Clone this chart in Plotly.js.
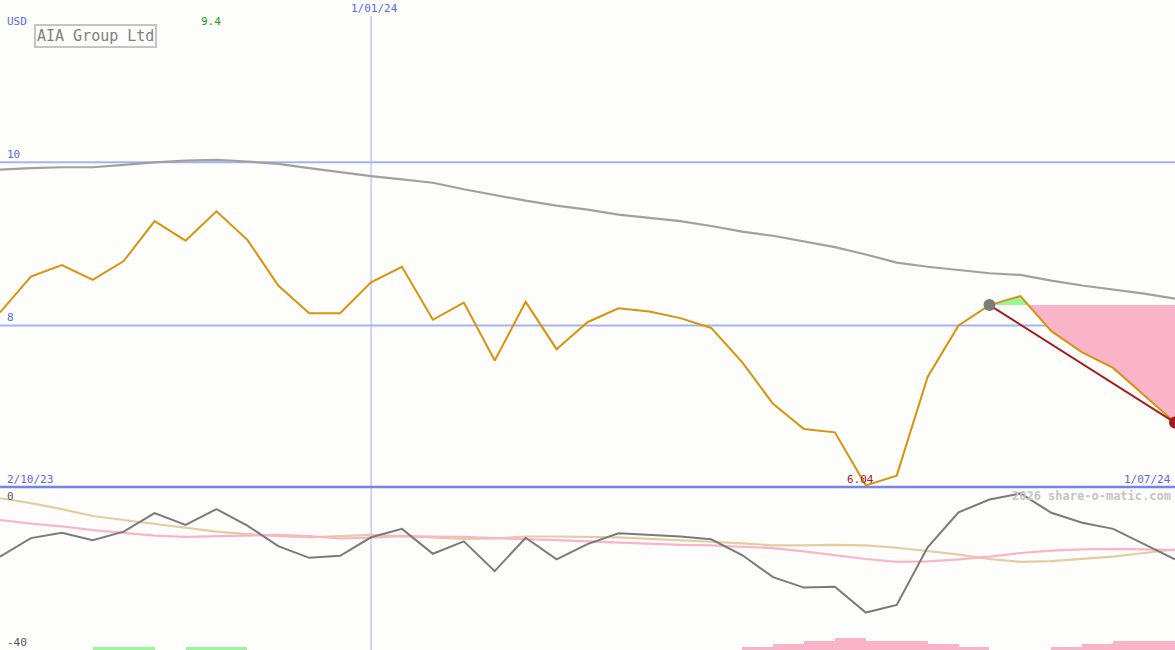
<!DOCTYPE html>
<html>
<head>
<meta charset="utf-8">
<script src="https://cdn.plot.ly/plotly-3.0.1.min.js"></script>
<style>
html,body{margin:0;padding:0;background:#fdfefb;}
#chart{width:1175px;height:650px;}
</style>
</head>
<body>
<div id="chart"></div>
<script>
// ---- data (weekly) ----
const dates = ["2023-10-09","2023-10-16","2023-10-23","2023-10-30","2023-11-06","2023-11-13","2023-11-20","2023-11-27",
"2023-12-04","2023-12-11","2023-12-18","2023-12-25","2024-01-01","2024-01-08","2024-01-15","2024-01-22","2024-01-29",
"2024-02-05","2024-02-12","2024-02-19","2024-02-26","2024-03-04","2024-03-11","2024-03-18","2024-03-25","2024-04-01",
"2024-04-08","2024-04-15","2024-04-22","2024-04-29","2024-05-06","2024-05-13","2024-05-20","2024-05-27","2024-06-03",
"2024-06-10","2024-06-17","2024-06-24","2024-07-01"];

const price = [8.16, 8.60, 8.74, 8.56, 8.79, 9.28, 9.04, 9.40, 9.05, 8.49, 8.15, 8.15, 8.53, 8.72, 8.07, 8.28, 7.57,
8.29, 7.71, 8.04, 8.21, 8.17, 8.09, 7.97, 7.55, 7.04, 6.73, 6.69, 6.04, 6.16, 7.37, 8.00, 8.25, 8.36, 7.93, 7.67, 7.48, 7.14, 6.81];

const movingAvg = [9.91, 9.93, 9.94, 9.94, 9.97, 10.00, 10.02, 10.03, 10.01, 9.98, 9.93, 9.88, 9.83, 9.79, 9.75, 9.67,
9.60, 9.53, 9.47, 9.42, 9.36, 9.32, 9.28, 9.22, 9.15, 9.10, 9.03, 8.96, 8.87, 8.77, 8.72, 8.68, 8.64, 8.62, 8.55, 8.49, 8.44, 8.39, 8.33];

const oscGrey = [-16.8, -12.2, -10.9, -12.7, -10.6, -6.0, -8.9, -5.0, -9.1, -14.2, -17.1, -16.6, -12.0, -9.9, -16.1,
-13.0, -20.4, -12.1, -17.5, -13.7, -11.0, -11.4, -11.8, -12.5, -16.4, -21.9, -24.5, -24.3, -30.7, -28.8, -14.5, -5.8,
-2.6, -1.1, -5.9, -8.4, -9.9, -13.7, -17.5];

const oscTan = [-2.3, -3.5, -5.0, -6.7, -7.7, -8.7, -9.7, -10.6, -11.2, -11.7, -12.0, -11.7, -11.4, -11.7, -12.1, -12.4,
-12.3, -11.8, -11.8, -11.9, -12.0, -12.4, -12.7, -13.1, -13.5, -14.0, -14.0, -13.9, -14.0, -14.6, -15.4, -16.3, -17.4,
-18.1, -17.9, -17.4, -16.8, -15.9, -15.0];

const oscPink = [-7.7, -8.6, -9.3, -10.2, -10.9, -11.6, -11.9, -11.7, -11.6, -11.4, -11.7, -12.3, -12.1, -11.7, -11.8,
-11.9, -12.2, -12.4, -12.7, -13.0, -13.3, -13.7, -13.9, -14.0, -14.3, -14.7, -15.5, -16.4, -17.4, -18.1, -18.0, -17.5,
-16.8, -15.9, -15.3, -15.0, -14.9, -15.0, -15.2];

// signal strength bars (positive = green, negative = pink)
const signal = [0,0,0,1,1,0,1,1,0,0,0,0,0,0,0,0,0,0,0,0,0,0,0,0,-1,-2,-3,-4,-3,-3,-2,-1,0,0,-1,-2,-3,-3,0];

const trendStart = 32;   // index of the grey marker
const trendEnd = 38;     // index of the red marker

const labelStart = "2/10/23";
const labelEnd = "1/07/24";
const labelMid = "1/01/24";
const midDate = "2024-01-01";

// ---- helpers ----
const W = 1175, H = 650;
const px = x => x / W;
const py = y => 1 - y / H;
const mono = "DejaVu Sans Mono, Liberation Mono, monospace";
const t = d => new Date(d + "T00:00:00Z").getTime();
const iso = ms => new Date(ms).toISOString().slice(0, 19).replace("T", " ");

// fill polygons between trend level and price after trendStart
const level = price[trendStart];
const above = [], below = [];
(function () {
  let cur = null, curSign = 0;
  function close() { if (cur) { cur.push([cur[cur.length - 1][0], level]); cur.push([cur[0][0], level]); (curSign > 0 ? above : below).push(cur); } }
  for (let i = trendStart; i < price.length - 1; i++) {
    const a = price[i], b = price[i + 1];
    const ta = t(dates[i]), tb = t(dates[i + 1]);
    const sa = a - level, sb = b - level;
    const segSign = (sa + sb) >= 0 ? 1 : -1;
    if (!cur) { cur = [[ta, a]]; curSign = sb !== 0 ? Math.sign(sb) : segSign; if (sa !== 0) curSign = Math.sign(sa) || curSign; }
    if (sa * sb < 0) {
      const f = sa / (sa - sb);
      const tc = ta + f * (tb - ta);
      cur.push([tc, level]);
      close();
      cur = [[tc, level]]; curSign = Math.sign(sb);
    }
    cur.push([tb, b]);
  }
  close();
})();

const traces = [];
function polyTrace(poly, color) {
  return { x: poly.map(p => iso(p[0])), y: poly.map(p => p[1]), xaxis: "x", yaxis: "y", mode: "lines",
    fill: "toself", fillcolor: color, line: { width: 0, color: color }, hoverinfo: "skip", showlegend: false };
}
above.forEach(p => traces.push(polyTrace(p, "#98f898")));
below.forEach(p => traces.push(polyTrace(p, "#f9b4c9")));

// moving average
traces.push({ x: dates, y: movingAvg, xaxis: "x", yaxis: "y", mode: "lines", line: { color: "#a0a0a0", width: 2.2 }, showlegend: false });
// price
traces.push({ x: dates, y: price, xaxis: "x", yaxis: "y", mode: "lines", line: { color: "#d9920c", width: 2 }, showlegend: false });
// trend line
traces.push({ x: [dates[trendStart], dates[trendEnd]], y: [price[trendStart], price[trendEnd]], xaxis: "x", yaxis: "y",
  mode: "lines", line: { color: "#a01c1c", width: 2 }, showlegend: false });
traces.push({ x: [dates[trendStart]], y: [price[trendStart]], xaxis: "x", yaxis: "y", mode: "markers",
  marker: { color: "#7c7c7c", size: 12 }, showlegend: false });
traces.push({ x: [dates[trendEnd]], y: [price[trendEnd]], xaxis: "x", yaxis: "y", mode: "markers",
  marker: { color: "#a01c1c", size: 12 }, showlegend: false });

// bottom panel
const barW = 7 * 86400000;
const barUnit = 0.75;
traces.push({ type: "bar", x: dates, y: signal.map(s => s > 0 ? s * barUnit : 0), base: -40, width: barW, offset: 0,
  xaxis: "x", yaxis: "y2", marker: { color: "#98f898", line: { width: 0 } }, showlegend: false });
traces.push({ type: "bar", x: dates, y: signal.map(s => s < 0 ? -s * barUnit : 0), base: -40, width: barW, offset: 0,
  xaxis: "x", yaxis: "y2", marker: { color: "#f9b4c9", line: { width: 0 } }, showlegend: false });
traces.push({ x: dates, y: oscTan, xaxis: "x", yaxis: "y2", mode: "lines", line: { color: "#e3cd9e", width: 2.2 }, showlegend: false });
traces.push({ x: dates, y: oscPink, xaxis: "x", yaxis: "y2", mode: "lines", line: { color: "#f9b4c9", width: 2.2 }, showlegend: false });
traces.push({ x: dates, y: oscGrey, xaxis: "x", yaxis: "y2", mode: "lines", line: { color: "#7a7a7a", width: 2 }, showlegend: false });

const blue = "#5a68e8";
const maxIdx = price.indexOf(Math.max(...price));
const minIdx = price.indexOf(Math.min(...price));

const annotations = [
  { text: "USD", xref: "paper", yref: "paper", x: px(5), y: py(21.5), xanchor: "left", yanchor: "middle", showarrow: false,
    font: { family: mono, size: 11, color: blue } },
  { text: "AIA Group Ltd", xref: "paper", yref: "paper", x: px(95), y: py(36.5), xanchor: "center", yanchor: "middle", showarrow: false,
    font: { family: mono, size: 15, color: "#808080" }, bordercolor: "#c4c4c4", borderwidth: 2, borderpad: 1, bgcolor: "rgba(0,0,0,0)" },
  { text: price[maxIdx].toFixed(1), xref: "x", yref: "paper", x: dates[maxIdx], y: py(21.5), xanchor: "center", yanchor: "middle",
    xshift: -5, showarrow: false, font: { family: mono, size: 11, color: "#1a9a1a" } },
  { text: labelMid, xref: "x", yref: "paper", x: midDate, y: py(9), xanchor: "center", yanchor: "middle", showarrow: false,
    xshift: 3, font: { family: mono, size: 11, color: blue } },
  { text: "10", xref: "paper", yref: "y", x: px(5), y: 10, xanchor: "left", yanchor: "bottom", yshift: -1, showarrow: false,
    font: { family: mono, size: 11, color: blue } },
  { text: "8", xref: "paper", yref: "y", x: px(5), y: 8, xanchor: "left", yanchor: "bottom", yshift: -1, showarrow: false,
    font: { family: mono, size: 11, color: blue } },
  { text: labelStart, xref: "paper", yref: "paper", x: px(5), y: py(479), xanchor: "left", yanchor: "middle", showarrow: false,
    font: { family: mono, size: 11, color: blue } },
  { text: labelEnd, xref: "paper", yref: "paper", x: px(1173), y: py(479), xanchor: "right", yanchor: "middle", showarrow: false,
    font: { family: mono, size: 11, color: blue } },
  { text: price[minIdx].toFixed(2), xref: "x", yref: "paper", x: dates[minIdx], y: py(479), xanchor: "center", yanchor: "middle",
    xshift: -5, showarrow: false, font: { family: mono, size: 11, color: "#a01c1c" } },
  { text: "2026 share-o-matic.com", xref: "paper", yref: "paper", x: px(1173), y: py(496), xanchor: "right", yanchor: "middle", showarrow: false,
    font: { family: mono, size: 12, color: "#c4c4c4", weight: "bold" } },
  { text: "0", xref: "paper", yref: "paper", x: px(5), y: py(496), xanchor: "left", yanchor: "middle", showarrow: false,
    font: { family: mono, size: 11, color: "#555555" } },
  { text: "-40", xref: "paper", yref: "paper", x: px(5), y: py(642), xanchor: "left", yanchor: "middle", showarrow: false,
    font: { family: mono, size: 11, color: "#555555" } }
];

const shapes = [
  { type: "line", xref: "paper", yref: "y", x0: 0, x1: 1, y0: 10, y1: 10, line: { color: "#a6b2f2", width: 2 }, layer: "below" },
  { type: "line", xref: "paper", yref: "y", x0: 0, x1: 1, y0: 8, y1: 8, line: { color: "#a6b2f2", width: 2 }, layer: "below" },
  { type: "line", xref: "x", yref: "paper", x0: midDate, x1: midDate, y0: 0, y1: py(16), line: { color: "#a6b2f2", width: 1 }, layer: "below" },
  { type: "line", xref: "paper", yref: "paper", x0: 0, x1: 1, y0: py(487), y1: py(487), line: { color: "#7484ea", width: 2.5 }, layer: "below" }
];

const layout = {
  width: W, height: H,
  margin: { l: 0, r: 0, t: 0, b: 0, pad: 0 },
  paper_bgcolor: "#fdfefb", plot_bgcolor: "#fdfefb",
  showlegend: false, barmode: "overlay", bargap: 0,
  xaxis: { type: "date", range: [dates[0], dates[dates.length - 1]], visible: false, fixedrange: true },
  yaxis: { domain: [1 - 487 / H, 1], range: [6.02, 11.99], visible: false, fixedrange: true },
  yaxis2: { domain: [0, 1 - 489 / H], range: [-40, 0], visible: false, fixedrange: true },
  annotations: annotations,
  shapes: shapes,
  hovermode: false
};

Plotly.newPlot("chart", traces, layout, { staticPlot: true, displayModeBar: false });
</script>
</body>
</html>
